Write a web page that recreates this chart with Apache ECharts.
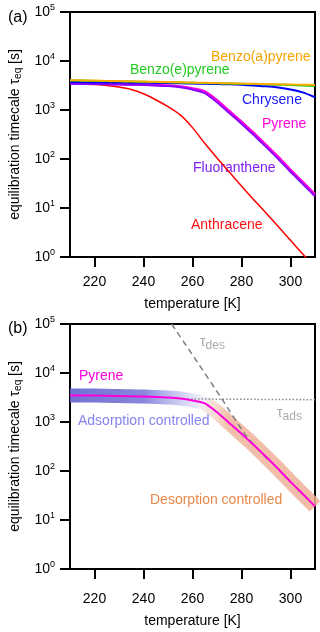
<!DOCTYPE html>
<html>
<head>
<meta charset="utf-8">
<script src="https://cdn.jsdelivr.net/npm/echarts@6/dist/echarts.min.js"></script>
<style>
  html, body { margin: 0; padding: 0; background: #fff; }
  #myChart { width: 320px; height: 632px; }
</style>
</head>
<body>
<div id="myChart"></div>
<script>
// temperature grid [K]
const temps = [210, 215, 220, 225, 230, 235, 240, 245, 250, 255, 260,
               265, 270, 275, 280, 285, 290, 295, 300, 305, 310];

// equilibration timescale [s]
const anthracene   = [3390, 3350, 3310, 3160, 2950, 2630, 2140, 1620, 1170, 794, 437,
                      209, 105, 54, 28, 14.8, 7.9, 4.2, 2.19, 1.15, 0.6];
const pyrene       = [3470, 3470, 3470, 3430, 3390, 3350, 3310, 3240, 3160, 3020, 2750,
                      2400, 1585, 955, 575, 339, 195, 110, 60, 34, 19];
const fluoranthene = [3390, 3390, 3390, 3350, 3310, 3270, 3240, 3160, 3090, 2920, 2610,
                      2210, 1440, 870, 523, 308, 177, 100, 55, 31, 17.3];
const chrysene     = [3720, 3700, 3670, 3650, 3630, 3610, 3590, 3570, 3550, 3510, 3470,
                      3430, 3390, 3350, 3270, 3160, 3050, 2880, 2630, 2290, 1820];
const benzoEpyrene = [4020, 3980, 3930, 3890, 3850, 3800, 3760, 3720, 3680, 3630, 3590,
                      3550, 3510, 3470, 3430, 3390, 3350, 3290, 3230, 3160, 3090];
const benzoApyrene = [4070, 4020, 3980, 3930, 3890, 3850, 3800, 3760, 3720, 3680, 3630,
                      3590, 3550, 3510, 3470, 3430, 3390, 3350, 3310, 3280, 3240];

// panel (b) guide lines [T, tau]
const tauDes = [[251.5, 100000], [262, 16600], [272, 2950], [282, 513], [291, 166]];
const tauAds = [[258, 2950], [310, 2850]];

const xTicks = [220, 240, 260, 280, 300];

const font = "'Liberation Sans', Arial, sans-serif";
const pairs = (vals) => temps.map((t, i) => [t, vals[i]]);

let myChart = echarts.init(document.getElementById('myChart'));

function xAxis(idx, labelMargin, nameGap) {
    return {
        type: 'value', gridIndex: idx, min: 210, max: 310,
        name: 'temperature [K]', nameLocation: 'middle', nameGap: nameGap,
        nameTextStyle: { color: '#000', fontSize: 14, fontFamily: font },
        axisLine: { show: true, lineStyle: { color: '#000', width: 2 } },
        axisTick: { show: true, customValues: xTicks, length: 10, lineStyle: { color: '#000', width: 2 } },
        axisLabel: { customValues: xTicks, margin: labelMargin, color: '#000', fontSize: 14, fontFamily: font },
        splitLine: { show: false }
    };
}

function yAxis(idx) {
    return {
        type: 'log', gridIndex: idx, logBase: 10, min: 1, max: 100000, interval: 1,
        name: 'equilibration timecale {t|τ}{sub|eq} [s]', nameLocation: 'middle', nameGap: 47,
        nameTextStyle: {
            color: '#000', fontSize: 14, fontFamily: font,
            rich: {
                t: { fontSize: 14, fontFamily: font, color: '#000' },
                sub: { fontSize: 10, fontFamily: font, color: '#000', padding: [6, 0, 0, 0] }
            }
        },
        axisLine: { show: true, lineStyle: { color: '#000', width: 2 } },
        axisTick: { show: true, length: 10, lineStyle: { color: '#000', width: 2 } },
        axisLabel: {
            margin: 15, color: '#000',
            formatter: (v) => '{b|10}{s|' + Math.round(Math.log10(v)) + '}',
            rich: {
                b: { fontSize: 14, fontFamily: font, color: '#000' },
                s: { fontSize: 9, fontFamily: font, color: '#000', padding: [0, 0, 8, 0] }
            }
        },
        splitLine: { show: false }
    };
}

function line(name, data, color, width, xi) {
    return {
        name: name, type: 'line', xAxisIndex: xi, yAxisIndex: xi, data: data,
        symbol: 'none', smooth: 0.2, silent: true,
        lineStyle: { color: color, width: width, join: 'round' }
    };
}

const adsBand = pairs(pyrene).filter(p => p[0] <= 270);
const desBand = pairs(pyrene).filter(p => p[0] >= 265);

function txt(x, y, text, color, rich) {
    return {
        type: 'text', left: x, top: y - 8,
        style: { text: text, fill: color, font: '14px ' + font, rich: rich }
    };
}
const subRich = { s: { fontSize: 12, fontFamily: font, fill: '#aaa', padding: [7, 0, 0, 0] } };

myChart.setOption({
    animation: false,
    title: [
        { text: '(a)', left: 3, top: 5, textStyle: { fontSize: 16, fontWeight: 'normal', fontFamily: font, color: '#000' } },
        { text: '(b)', left: 3, top: 316, textStyle: { fontSize: 16, fontWeight: 'normal', fontFamily: font, color: '#000' } }
    ],
    grid: [
        { left: 70, top: 12, width: 245, height: 245, show: true, borderColor: '#000', borderWidth: 2, backgroundColor: 'transparent' },
        { left: 70, top: 324, width: 245, height: 245, show: true, borderColor: '#000', borderWidth: 2, backgroundColor: 'transparent' }
    ],
    xAxis: [xAxis(0, 18, 40), xAxis(1, 23, 45)],
    yAxis: [yAxis(0), yAxis(1)],
    series: [
        line('Anthracene', pairs(anthracene), '#ff0000', 1.5, 0),
        line('Pyrene', pairs(pyrene), '#ff00dd', 2.5, 0),
        line('Fluoranthene', pairs(fluoranthene), '#8a00ff', 2, 0),
        line('Chrysene', pairs(chrysene), '#0000ff', 2, 0),
        line('Benzo(e)pyrene', pairs(benzoEpyrene), '#00cc00', 2, 0),
        line('Benzo(a)pyrene', pairs(benzoApyrene), '#ffaa00', 2, 0),
        {
            name: 'ads band', type: 'line', xAxisIndex: 1, yAxisIndex: 1, data: adsBand,
            symbol: 'none', smooth: 0.2, silent: true,
            lineStyle: {
                width: 14, cap: 'butt', join: 'round',
                color: new echarts.graphic.LinearGradient(0, 0, 1, 0, [
                    { offset: 0, color: 'rgba(95,95,205,0.9)' },
                    { offset: 0.5, color: 'rgba(105,105,210,0.8)' },
                    { offset: 0.95, color: 'rgba(160,160,235,0)' }
                ])
            }
        },
        {
            name: 'des band', type: 'line', xAxisIndex: 1, yAxisIndex: 1, data: desBand,
            symbol: 'none', smooth: 0.2, silent: true,
            lineStyle: {
                width: 15, cap: 'butt', join: 'round',
                color: new echarts.graphic.LinearGradient(0, 0, 1, 0, [
                    { offset: 0, color: 'rgba(240,185,160,0)' },
                    { offset: 0.25, color: 'rgba(238,175,150,0.8)' },
                    { offset: 1, color: 'rgba(238,175,150,0.85)' }
                ])
            }
        },
        {
            name: 'tau_ads', type: 'line', xAxisIndex: 1, yAxisIndex: 1, data: tauAds,
            symbol: 'none', silent: true,
            lineStyle: { color: '#888', width: 1.5, type: [1.5, 2] }
        },
        {
            name: 'tau_des', type: 'line', xAxisIndex: 1, yAxisIndex: 1, data: tauDes,
            symbol: 'none', smooth: 0.2, silent: true,
            lineStyle: { color: '#808080', width: 1.5, type: [6, 4] }
        },
        line('Pyrene b', pairs(pyrene), '#ff00dd', 2, 1)
    ],
    graphic: [
        txt(211, 58, 'Benzo(a)pyrene', '#f5a300'),
        txt(130, 71, 'Benzo(e)pyrene', '#22cc22'),
        txt(242, 101, 'Chrysene', '#1a1aff'),
        txt(262, 125, 'Pyrene', '#ff00dd'),
        txt(193, 169, 'Fluoranthene', '#8020f0'),
        txt(191, 226, 'Anthracene', '#ff1010'),
        txt(200, 343, 'τ{s|des}', '#aaa', subRich),
        txt(79, 377, 'Pyrene', '#ff00dd'),
        txt(277, 414, 'τ{s|ads}', '#aaa', subRich),
        txt(78, 422, 'Adsorption controlled', '#8484ee'),
        txt(150, 501, 'Desorption controlled', '#e8884a')
    ]
});
</script>
</body>
</html>
